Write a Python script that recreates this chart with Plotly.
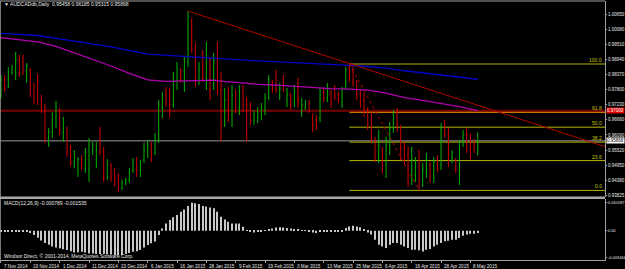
import plotly.graph_objects as go

# ---------------- data ----------------
bars = list(range(131))
opens = [.9771,.9816,.9794,.9846,.9854,.9892,.9884,.9846,.9854,.9779,
 .9760,.9741,.9711,.9598,.9620,.9673,.9703,.9620,.9635,.9552,
 .9507,.9477,.9515,.9484,.9477,.9552,.9515,.9609,.9545,.9454,
 .9496,.9454,.9439,.9409,.9428,.9439,.9477,.9507,.9477,.9515,
 .9545,.9571,.9545,.9590,.9711,.9760,.9741,.9722,.9816,.9854,
 .9809,.9884,.9967,.9929,.9816,.9861,.9824,.9892,.9797,.9892,
 .9779,.9647,.9741,.9684,.9760,.9711,.9771,.9722,.9711,.9665,
 .9673,.9684,.9703,.9748,.9809,.9824,.9760,.9816,.9741,.9760,
 .9730,.9797,.9703,.9711,.9726,.9684,.9665,.9673,.9771,.9748,
 .9771,.9786,.9760,.9733,.9786,.9861,.9854,.9809,.9760,.9741,
 .9703,.9665,.9590,.9533,.9552,.9496,.9571,.9635,.9695,.9635,
 .9560,.9533,.9458,.9458,.9515,.9439,.9469,.9496,.9458,.9515,
 .9496,.9635,.9609,.9522,.9515,.9477,.9583,.9609,.9571,.9571,
 .95458]
highs = [.9835,.9835,.9865,.9873,.9922,.9911,.9911,.9880,.9861,.9805,
 .9839,.9760,.9726,.9635,.9695,.9737,.9711,.9677,.9639,.9571,
 .9552,.9526,.9533,.9560,.9598,.9583,.9583,.9639,.9564,.9518,
 .9503,.9484,.9466,.9439,.9447,.9484,.9522,.9526,.9515,.9579,
 .9590,.9583,.9616,.9741,.9771,.9790,.9786,.9846,.9884,.9861,
 .9903,1.0076,1.0050,.9956,.9884,.9929,.9960,.9899,.9918,.9960,
 .9846,.9786,.9790,.9797,.9779,.9797,.9797,.9752,.9733,.9703,
 .9714,.9730,.9767,.9835,.9816,.9854,.9805,.9835,.9786,.9767,
 .9797,.9824,.9748,.9741,.9741,.9692,.9684,.9786,.9786,.9805,
 .9779,.9797,.9771,.9790,.9865,.98765,.9873,.9816,.9779,.9767,
 .9714,.9695,.9602,.9628,.9564,.9602,.9658,.9703,.9711,.9647,
 .9583,.9564,.9564,.9526,.9552,.9503,.9541,.9507,.9526,.9533,
 .9654,.9665,.9635,.9552,.9522,.9590,.9628,.9635,.9616,.9594,
 .96185]
lows = [.9748,.9771,.9786,.9835,.9816,.9828,.9835,.9805,.9752,.9726,
 .9722,.9692,.9579,.9564,.9598,.9635,.9609,.9583,.9526,.9492,
 .9484,.9451,.9477,.9466,.9432,.9533,.9484,.9533,.9432,.9439,
 .9432,.9413,.9394,.9402,.9420,.9428,.9466,.9451,.9451,.9503,
 .9522,.9507,.9533,.9579,.9673,.9714,.9677,.9711,.9779,.9805,
 .9771,.9865,.9918,.9790,.9797,.9809,.9779,.9741,.9779,.9760,
 .9583,.9639,.9658,.9639,.9692,.9684,.9695,.9583,.9647,.9647,
 .9654,.9665,.9684,.9741,.9767,.9767,.9741,.9771,.9714,.9703,
 .9714,.9711,.9677,.9703,.9692,.9620,.9628,.9658,.9733,.9733,
 .9711,.9741,.9730,.9711,.9779,.9809,.9790,.9741,.9711,.9677,
 .9628,.9579,.9507,.9503,.9466,.9447,.9533,.9616,.9620,.9515,
 .9496,.9413,.9420,.9432,.9400,.9413,.9447,.9428,.9428,.9469,
 .9477,.9598,.9488,.9503,.9466,.9420,.9564,.9541,.9515,.9541,
 .95315]
closes = [.9816,.9786,.9846,.9861,.9892,.9846,.9854,.9869,.9771,.9748,
 .9741,.9711,.9598,.9620,.9684,.9711,.9628,.9658,.9545,.9507,
 .9533,.9515,.9484,.9545,.9571,.9571,.9552,.9545,.9447,.9496,
 .9447,.9432,.9409,.9428,.9439,.9469,.9507,.9477,.9503,.9552,
 .9571,.9533,.9590,.9722,.9748,.9733,.9703,.9824,.9861,.9816,
 .9884,.9967,.9929,.9816,.9854,.9824,.9911,.9779,.9892,.9779,
 .9647,.9741,.9684,.9760,.9711,.9771,.9722,.9628,.9665,.9684,
 .9695,.9711,.9748,.9816,.9779,.9779,.9786,.9779,.9760,.9722,
 .9771,.9741,.9722,.9726,.9703,.9647,.9639,.9760,.9748,.9779,
 .9733,.9756,.9741,.9779,.9854,.9835,.9809,.9760,.9733,.9703,
 .9647,.9590,.9533,.9590,.9496,.9571,.9635,.9684,.9647,.9552,
 .9522,.9458,.9515,.9496,.9439,.9477,.9515,.9458,.9507,.9484,
 .9628,.9609,.9533,.9541,.9477,.9571,.9609,.9560,.9552,.9552,
 .95868]

# MACD histogram, in thousandths
macd_e3 = [
 -0.4,-0.3,-0.3,-0.2,-0.2,-0.2,-0.3,-0.4,-0.8,-1.5,
 -2.5,-3.5,-4.4,-5.0,-5.6,-6.0,-6.3,-6.6,-6.9,-7.3,
 -7.8,-7.7,-7.5,-7.8,-8.1,-8.1,-8.3,-8.3,-8.3,-8.3,
 -8.5,-8.7,-8.8,-8.7,-8.3,-8.0,-7.5,-7.3,-6.9,-6.0,
 -5.1,-4.5,-3.9,-1.5,0.8,2.6,3.8,4.8,5.6,6.8,
 7.6,8.8,10.0,9.8,9.5,8.8,8.6,8.3,8.0,6.8,
 5.0,4.0,3.2,2.6,2.6,2.6,1.4,0.2,-0.3,-0.6,
 -0.5,-0.2,0.2,0.5,0.8,1.1,1.2,1.1,1.0,0.8,
 0.6,0.4,0.2,0.1,-0.2,-0.6,-0.8,-0.4,-0.4,-0.2,
 -0.5,-0.3,-0.3,-0.2,1.0,1.5,1.8,1.5,1.2,0.4,
 -0.6,-1.4,-3.2,-5.0,-5.6,-6.2,-5.0,-4.4,-4.4,-5.0,
 -5.6,-6.2,-6.8,-6.8,-7.0,-7.4,-6.8,-6.5,-5.6,-5.0,
 -4.4,-3.8,-3.6,-3.2,-3.2,-2.6,-1.8,-1.4,-1.1,-1.1,
 -0.789]
macd = [v / 1000 for v in macd_e3]

ma_blue_x = [0,10,20,30,40,50,60,70,80,90,95,100,105,110,115,120,125,130]
ma_blue = [0.9992,0.9984,0.9963,0.9941,0.9914,0.9905,0.9898,0.9888,0.9882,0.9873,
           0.9871,0.9867,0.9861,0.9851,0.9843,0.9833,0.9826,0.9819]
ma_mag_x = [0,5,10,15,20,25,30,35,40,45,50,55,58,60,65,70,75,80,85,90,95,100,105,110,115,120,125,130]
ma_mag = [0.9976,0.9967,0.9960,0.9943,0.9918,0.9893,0.9869,0.9841,0.9817,0.9811,0.9812,0.9814,
          0.9816,0.9812,0.9806,0.9800,0.9797,0.9792,0.9788,0.9784,0.9782,0.9778,0.9767,0.9750,
          0.9739,0.9728,0.9716,0.9701]

trend_x = [51, 164.7]
trend_y = [1.0076, 0.9565]
dot_x = [95, 114]
dot_y = [0.98765, 0.9400]
fib_high, fib_low, fib_start = 0.98765, 0.9400, 95
fib_levels = [100.0, 61.8, 50.0, 38.2, 23.6, 0.0]
hline_red = 0.97000
last_price = 0.95868

date_pos = list(range(0, 129, 8))
date_text = ["7 Nov 2014","19 Nov 2014","1 Dec 2014","11 Dec 2014","23 Dec 2014","6 Jan 2015",
             "16 Jan 2015","28 Jan 2015","9 Feb 2015","19 Feb 2015","3 Mar 2015","13 Mar 2015",
             "25 Mar 2015","6 Apr 2015","16 Apr 2015","28 Apr 2015","8 May 2015"]
price_ticks = [1.0065,1.0008,0.9951,0.9894,0.9837,0.9780,0.9723,0.9666,0.9609,0.9552,0.9495,0.9438,0.93825]
price_text = ["1.00650","1.00080","0.99510","0.98940","0.98370","0.97800","0.97230","0.96660",
              "0.96090","0.95520","0.94950","0.94380","0.93825"]
macd_ticks = [0.010187, 0.0, -0.009444]
macd_text = ["0.010187", "0.00", "-0.009444"]

# ---------------- figure ----------------
FONT = "Liberation Sans, Arial, sans-serif"
AX = "#a0a0a0"
TXT = "#e8e8e8"
XR = [-0.27, 164.7]

fig = go.Figure()
fig.add_trace(go.Ohlc(
    x=bars, open=opens, high=highs, low=lows, close=closes,
    increasing=dict(line=dict(color="#00b400", width=1)),
    decreasing=dict(line=dict(color="#d20000", width=1)),
    tickwidth=0.22, xaxis="x", yaxis="y", showlegend=False, hoverinfo="skip"))
fig.add_trace(go.Scatter(x=ma_blue_x, y=ma_blue, mode="lines",
    line=dict(color="#0000c8", width=1.3), xaxis="x", yaxis="y", showlegend=False, hoverinfo="skip"))
fig.add_trace(go.Scatter(x=ma_mag_x, y=ma_mag, mode="lines",
    line=dict(color="#b000b0", width=1.3), xaxis="x", yaxis="y", showlegend=False, hoverinfo="skip"))
fig.add_trace(go.Scatter(x=trend_x, y=trend_y, mode="lines",
    line=dict(color="#b40000", width=1), xaxis="x", yaxis="y", showlegend=False, hoverinfo="skip"))
fig.add_trace(go.Scatter(x=dot_x, y=dot_y, mode="lines",
    line=dict(color="#b40000", width=1, dash="dot"), xaxis="x", yaxis="y", showlegend=False, hoverinfo="skip"))
fig.add_trace(go.Bar(x=bars, y=macd, width=0.26, marker=dict(color="#c8c8c8", line=dict(width=0)),
    xaxis="x", yaxis="y2", showlegend=False, hoverinfo="skip"))

shapes = []
shapes.append(dict(type="line", xref="x", yref="y", x0=XR[0], x1=XR[1], y0=hline_red, y1=hline_red,
                   line=dict(color="#780000", width=2), layer="below"))
shapes.append(dict(type="line", xref="x", yref="y", x0=XR[0], x1=XR[1], y0=last_price, y1=last_price,
                   line=dict(color="#9a9a9a", width=1), layer="below"))
annotations = []
for lv in fib_levels:
    yv = fib_low + (fib_high - fib_low) * lv / 100.0
    col = "#ff9900" if lv == 61.8 else "#b4b400"
    shapes.append(dict(type="line", xref="x", yref="y", x0=fib_start, x1=XR[1], y0=yv, y1=yv,
                       line=dict(color=col, width=1), layer="below"))
    annotations.append(dict(xref="x", yref="y", x=XR[1] - 0.3, y=yv, text="%.1f" % lv, showarrow=False,
                            xanchor="right", yanchor="bottom", yshift=-1,
                            font=dict(family=FONT, size=5, color="#c8c800")))
# frame
shapes.append(dict(type="line", xref="paper", yref="paper", x0=0, x1=1, y0=1, y1=1,
                   line=dict(color=AX, width=1)))
shapes.append(dict(type="line", xref="paper", yref="paper", x0=0, x1=0, y0=0, y1=1,
                   line=dict(color=AX, width=1.5)))
shapes.append(dict(type="line", xref="paper", yref="paper", x0=0, x1=1, y0=0.2400, y1=0.2400,
                   line=dict(color="#a8a8a8", width=2.5)))

# date labels (left-aligned at their bar, as in the terminal)
for p, t in zip(date_pos, date_text):
    annotations.append(dict(xref="x", yref="paper", x=p, y=0, text=t, showarrow=False,
                            xanchor="left", yanchor="top", xshift=1, yshift=-1.5,
                            font=dict(family=FONT, size=4.6, color=TXT)))

annotations += [
    dict(xref="paper", yref="paper", x=0.003, y=0.987, text="▼ AUDCADdb,Daily  0.95458 0.96185 0.95315 0.95868",
         showarrow=False, xanchor="left", yanchor="middle", font=dict(family=FONT, size=5, color=TXT)),
    dict(xref="paper", yref="paper", x=0.004, y=0.220, text="MACD(12,26,9) -0.000789 -0.001535",
         showarrow=False, xanchor="left", yanchor="middle", font=dict(family=FONT, size=5, color=TXT)),
    dict(xref="paper", yref="paper", x=0.004, y=0.016, text="Windsor Direct, © 2001-2014, MetaQuotes Software Corp.",
         showarrow=False, xanchor="left", yanchor="middle", font=dict(family=FONT, size=5, color=TXT)),
    dict(xref="paper", yref="y", x=1.0, y=last_price, text="0.95868", showarrow=False, xanchor="left",
         yanchor="middle", xshift=1, bgcolor="#ffffff", borderpad=0,
         font=dict(family=FONT, size=4.5, color="#000000")),
    dict(xref="paper", yref="y", x=1.0, y=hline_red, text="0.97000", showarrow=False, xanchor="left",
         yanchor="middle", xshift=1, bgcolor="#e00000", borderpad=0,
         font=dict(family=FONT, size=4.5, color="#ffffff")),
]

fig.update_layout(
    width=625, height=269,
    margin=dict(l=0, r=20, t=1, b=9),
    paper_bgcolor="#000000", plot_bgcolor="#000000",
    showlegend=False, shapes=shapes, annotations=annotations,
    xaxis=dict(domain=[0, 1], range=XR, anchor="y2", tickmode="array", tickvals=date_pos,
               ticks="outside", ticklen=2, tickcolor=AX, showticklabels=False,
               showline=True, linecolor=AX, linewidth=1,
               showgrid=False, zeroline=False, rangeslider=dict(visible=False), automargin=False),
    yaxis=dict(domain=[0.2432, 1], range=[0.93751, 1.0114], side="right", anchor="x", tickmode="array",
               tickvals=price_ticks, ticktext=price_text, ticks="outside", ticklen=1, tickcolor=AX,
               tickfont=dict(family=FONT, size=4.5, color=TXT), showline=True, linecolor=AX, linewidth=1,
               showgrid=False, zeroline=False, automargin=False),
    yaxis2=dict(domain=[0, 0.2355], range=[-0.01046, 0.01131], side="right", anchor="x", tickmode="array",
                tickvals=macd_ticks, ticktext=macd_text, ticks="outside", ticklen=1, tickcolor=AX,
                tickfont=dict(family=FONT, size=4, color=TXT), showline=True, linecolor=AX, linewidth=1,
                showgrid=False, zeroline=False, automargin=False),
)

fig.write_html("out.html")
